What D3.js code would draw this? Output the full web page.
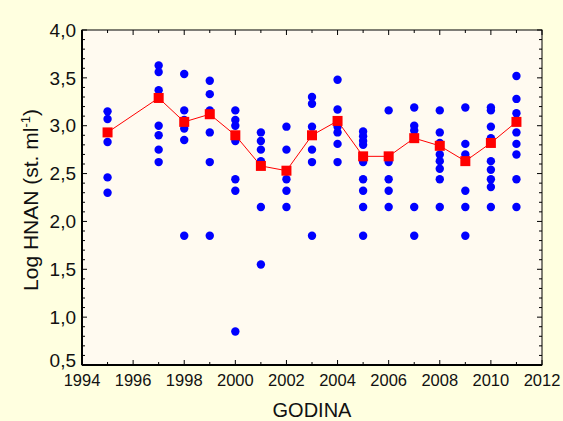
<!DOCTYPE html>
<html><head><meta charset="utf-8">
<script src="https://cdn.jsdelivr.net/npm/d3@7"></script>
<style>body{margin:0;background:#FFFFE0;}svg{display:block;font-family:Arial,"Liberation Sans",sans-serif;}</style>
</head><body>
<svg id="c" width="563" height="421"></svg>
<script>
const years = [1995,1997,1998,1999,2000,2001,2002,2003,2004,2005,2006,2007,2008,2009,2010,2011];
const observations = [
  [3.15,3.07,2.93,2.83,2.46,2.30],
  [3.63,3.56,3.37,3.29,3.00,2.90,2.75,2.62],
  [3.54,3.16,3.06,2.97,2.85,1.85],
  [3.47,3.33,3.16,3.12,2.93,2.62,1.85],
  [3.16,3.06,3.00,2.90,2.84,2.44,2.32,0.85],
  [2.93,2.84,2.75,2.63,2.58,2.15,1.55],
  [2.99,2.75,2.53,2.44,2.32,2.15],
  [3.30,3.23,2.99,2.90,2.75,2.62,1.85],
  [3.48,3.17,3.05,2.99,2.93,2.81,2.62],
  [2.94,2.89,2.84,2.80,2.68,2.62,2.44,2.32,2.15,1.85],
  [3.16,2.68,2.62,2.44,2.32,2.15],
  [3.19,3.00,2.95,2.87,2.15,1.85],
  [3.16,2.93,2.82,2.79,2.70,2.63,2.55,2.44,2.15],
  [3.19,2.81,2.70,2.63,2.32,2.15,1.85],
  [3.19,3.16,2.99,2.87,2.82,2.63,2.54,2.44,2.36,2.15],
  [3.52,3.28,3.13,3.04,2.93,2.81,2.70,2.44,2.15]
];
const means = [2.93,3.29,3.04,3.12,2.90,2.58,2.53,2.90,3.05,2.68,2.68,2.87,2.79,2.63,2.82,3.04];
const xTicks = [1994,1996,1998,2000,2002,2004,2006,2008,2010,2012];
const yTicks = [0.5,1.0,1.5,2.0,2.5,3.0,3.5,4.0];

const L=82,R=542,T=30,B=365;
const svg=d3.select("#c");
const x=d3.scaleLinear().domain([1994,2012]).range([L,R]);
const y=d3.scaleLinear().domain([0.5,4.0]).range([B,T]);

svg.append("rect").attr("x",L).attr("y",T).attr("width",R-L).attr("height",B-T).attr("fill","#FFFAF0");

const fmt=d=>d3.format(".1f")(d).replace(".",",");
const minorX=d3.range(1994,2013,1), minorY=d3.range(5,41,1).map(v=>v/10);
const g=svg.append("g").attr("stroke","#000").attr("stroke-width",1);
minorX.forEach(v=>{const len=(v%2===0)?5:3;
  g.append("line").attr("x1",x(v)).attr("x2",x(v)).attr("y1",B).attr("y2",B-len);
  g.append("line").attr("x1",x(v)).attr("x2",x(v)).attr("y1",T).attr("y2",T+len);});
minorY.forEach(v=>{const len=(Math.round(v*10)%5===0)?5:3;
  g.append("line").attr("y1",y(v)).attr("y2",y(v)).attr("x1",L).attr("x2",L+len);
  g.append("line").attr("y1",y(v)).attr("y2",y(v)).attr("x1",R).attr("x2",R-len);});

svg.append("rect").attr("x",L).attr("y",T).attr("width",R-L).attr("height",B-T).attr("fill","none").attr("stroke","#000").attr("stroke-width",1);
svg.append("line").attr("x1",L).attr("x2",R).attr("y1",B).attr("y2",B).attr("stroke","#000").attr("stroke-width",2);
svg.append("line").attr("x1",L).attr("x2",L).attr("y1",T).attr("y2",B).attr("stroke","#000").attr("stroke-width",2);

svg.selectAll(".xt").data(xTicks).join("text").attr("x",d=>x(d)).attr("y",386).attr("text-anchor","middle").attr("font-size",16.5).attr("fill","#111").text(d=>d);
svg.selectAll(".yt").data(yTicks).join("text").attr("x",76).attr("y",d=>y(d)+(d===0.5?-5:0)).attr("dy","0.35em").attr("text-anchor","end").attr("font-size",19).attr("fill","#111").text(fmt);

svg.append("text").attr("x",(L+R)/2).attr("y",417).attr("text-anchor","middle").attr("font-size",20).attr("fill","#111").text("GODINA");
const yl=svg.append("text").attr("transform","translate(38,200) rotate(-90)").attr("text-anchor","middle").attr("font-size",21).attr("fill","#111");
yl.append("tspan").text("Log HNAN (st. ml");
yl.append("tspan").attr("dy",-8).attr("font-size",13).text("-1");
yl.append("tspan").attr("dy",8).text(")");

const pts=[];years.forEach((yr,i)=>observations[i].forEach(v=>pts.push([yr,v])));
svg.append("g").selectAll("circle").data(pts).join("circle").attr("cx",d=>x(d[0])).attr("cy",d=>y(d[1])).attr("r",4.2).attr("fill","#0000FF");

const line=d3.line().x((d,i)=>x(years[i])).y(d=>y(d));
svg.append("path").datum(means).attr("d",line).attr("fill","none").attr("stroke","#FF0000").attr("stroke-width",1);
svg.append("g").selectAll("rect").data(means).join("rect").attr("x",(d,i)=>x(years[i])-5).attr("y",d=>y(d)-5).attr("width",10).attr("height",10).attr("fill","#FF0000");
</script>
</body></html>
